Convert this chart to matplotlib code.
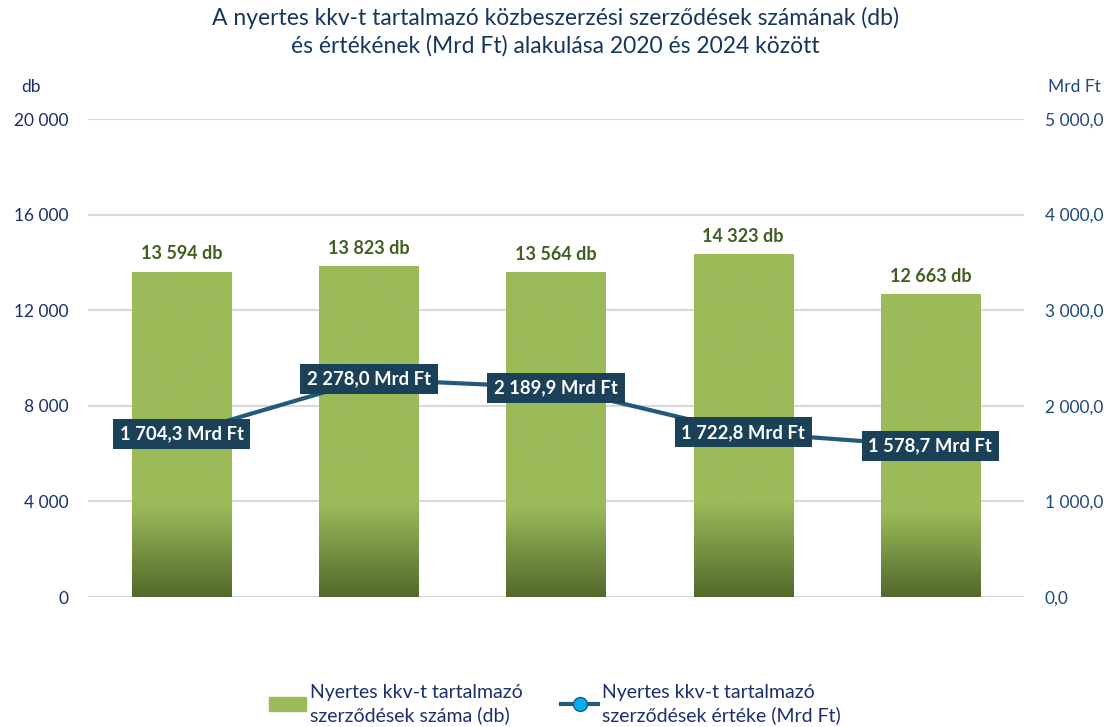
import matplotlib.pyplot as plt
import numpy as np
import matplotlib

plt.rcParams['font.family'] = ['Lato', 'DejaVu Sans']

# data
years = ['2020', '2021', '2022', '2023', '2024']
db_values = [13594, 13823, 13564, 14323, 12663]
mrd_values = [1704.3, 2278.0, 2189.9, 1722.8, 1578.7]
left_ticks = [0, 4000, 8000, 12000, 16000, 20000]
right_ticks = [0, 1000, 2000, 3000, 4000, 5000]

title = ('A nyertes kkv-t tartalmazó közbeszerzési szerződések számának (db)\n'
         'és értékének (Mrd Ft) alakulása 2020 és 2024 között')
bar_label = 'Nyertes kkv-t tartalmazó\nszerződések száma (db)'
line_label = 'Nyertes kkv-t tartalmazó\nszerződések értéke (Mrd Ft)'

# colours
green = '#9BBB59'
dark_green = '#51692C'
label_green = '#3F5F22'
line_col = '#23597A'
box_col = '#1B4159'
navy = '#1A2F6E'
right_col = '#1F497D'
grid_col = '#D9D9D9'


def hu(v, dec=0):
    s = f'{v:,.{dec}f}'
    return s.replace(',', ' ').replace('.', ',')


fig = plt.figure(figsize=(11.1, 7.27), dpi=100)
ax = fig.add_axes([0.0793, 0.1788, 0.8432, 0.6575])
ax2 = ax.twinx()

x = np.arange(len(years))
bars = ax.bar(x, db_values, width=0.53, color='none', zorder=2)

# vertical gradient inside each bar
grad = np.linspace(0, 1, 256).reshape(-1, 1)
cmap = matplotlib.colors.LinearSegmentedColormap.from_list(
    'g', [(0, dark_green), (0.28, green), (1, green)])
for b in bars:
    x0, w, h = b.get_x(), b.get_width(), b.get_height()
    ax.imshow(grad, extent=(x0, x0 + w, 0, h), origin='lower', cmap=cmap,
              aspect='auto', zorder=2, interpolation='bicubic')
    ax.annotate(hu(h) + ' db', (x0 + w / 2, h), xytext=(0, 7),
                textcoords='offset points', ha='center', va='bottom',
                fontsize=13, fontweight='bold', color=label_green)

ax.set_xlim(-0.5, len(years) - 0.5)
ax.set_ylim(0, 20000)
ax.set_yticks(left_ticks)
ax.set_yticklabels([hu(t) for t in left_ticks], fontsize=12.5, color=navy)
ax.set_xticks([])
ax.grid(axis='y', color=grid_col, lw=1.5, zorder=0)
ax.set_axisbelow(True)
ax.tick_params(axis='y', length=0, pad=14)

ax2.plot(x, mrd_values, color=line_col, lw=3, zorder=3)
for xi, v in zip(x, mrd_values):
    ax2.text(xi, v, hu(v, 1) + ' Mrd Ft', ha='center', va='center',
             fontsize=13.3, fontweight='bold', color='white', zorder=4,
             bbox=dict(boxstyle='square,pad=0.36', fc=box_col, ec='none'))
ax2.set_ylim(0, 5000)
ax2.set_yticks(right_ticks)
ax2.set_yticklabels([hu(t, 1) for t in right_ticks], fontsize=12.5, color=right_col)
ax2.tick_params(axis='y', length=0, pad=15)

for a in (ax, ax2):
    for s in a.spines.values():
        s.set_visible(False)

fig.text(0.028, 0.88, 'db', fontsize=12.5, color=navy, ha='center', va='center')
fig.text(0.968, 0.88, 'Mrd Ft', fontsize=12.5, color=right_col, ha='center', va='center')
fig.suptitle(title, fontsize=16.5, color='#17365D', y=0.99, linespacing=1.3)

h1 = matplotlib.patches.Patch(color=green)
h2 = matplotlib.lines.Line2D([], [], color=line_col, lw=3, marker='o',
                             markersize=10, markerfacecolor='#00B0F0',
                             markeredgecolor=line_col)
leg = fig.legend([h1, h2], [bar_label, line_label], loc='center', ncol=2,
                 bbox_to_anchor=(0.5, 0.032), frameon=False, fontsize=14,
                 labelcolor=navy, handlelength=1.9, handletextpad=0.2,
                 columnspacing=2.0, borderpad=0)
for t in leg.get_texts():
    t.set_linespacing(1.35)

fig.savefig('out.png', dpi=100)
